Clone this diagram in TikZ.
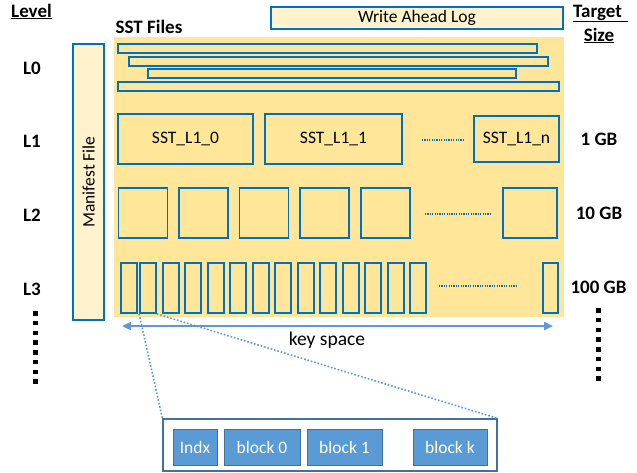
\documentclass[tikz,border=0pt]{standalone}
\usepackage{fontspec}
\setmainfont{Carlito}
\usetikzlibrary{arrows.meta}

\definecolor{gold}{HTML}{FFE699}
\definecolor{cream}{HTML}{FFF2CC}
\definecolor{fileblue}{HTML}{0070C0}
\definecolor{softblue}{HTML}{5B9BD5}
\definecolor{slateblue}{HTML}{41719C}

\tikzset{
  txt/.style={font=\fontsize{17.5}{20}\selectfont, text=black},
  lbl/.style={font=\fontsize{19}{22}\selectfont\bfseries, text=black, inner sep=0pt},
  sstbox/.style={draw=fileblue, line width=1.8pt, fill=gold, inner sep=0pt, txt},
  metabox/.style={draw=fileblue, line width=1.8pt, fill=cream, inner sep=0pt, txt},
  blk/.style={draw=slateblue, line width=0.8pt, fill=softblue, inner sep=0pt,
              minimum height=36pt, font=\fontsize{17.5}{20}\selectfont, text=white},
  gap/.style={draw=fileblue, line width=1.5pt, dash pattern=on 1.2pt off 1.2pt},
  zoomline/.style={draw=softblue, line width=1.6pt, dash pattern=on 1.6pt off 1.9pt},
}

\begin{document}
\begin{tikzpicture}[x=1pt, y=-1pt]
\useasboundingbox (0,0) rectangle (637,472);

% column headings
\node[lbl, anchor=base] (level) at (31.5,17) {\underline{Level}};
\node[lbl, anchor=base west] (target) at (573,17) {\underline{Target\,\,}};
\node[lbl, anchor=base] (size) at (599,41) {\underline{Size}};
\node[lbl, anchor=base] (sstfiles) at (149,33) {SST Files};

% level names
\node[lbl, anchor=base] (l0) at (32,74) {L0};
\node[lbl, anchor=base] (l1) at (32,147) {L1};
\node[lbl, anchor=base] (l2) at (32,221) {L2};
\node[lbl, anchor=base] (l3) at (32,295) {L3};

% target sizes
\node[lbl, anchor=base] (s1) at (599,145) {1 GB};
\node[lbl, anchor=base] (s2) at (599,219) {10 GB};
\node[lbl, anchor=base] (s3) at (598.5,293) {100 GB};

% write ahead log and manifest
\node[metabox, minimum width=292pt, minimum height=22pt] (wal) at (417,18) {Write Ahead Log};
\node[metabox, rotate=90, minimum width=276pt, minimum height=31pt] (manifest) at (88.5,182) {Manifest File};

% area holding the SST files
\node[fill=gold, inner sep=0pt, minimum width=450pt, minimum height=280pt] (area) at (339,177) {};

% L0: overlapping files
\node[sstbox, minimum width=419pt, minimum height=9pt] (l0a) at (327.5,48.5) {};
\node[sstbox, minimum width=419pt, minimum height=9pt] (l0b) at (338.5,61.5) {};
\node[sstbox, minimum width=368pt, minimum height=9pt] (l0c) at (332,73.5) {};
\node[sstbox, minimum width=441pt, minimum height=9pt] (l0d) at (338.5,86.5) {};

% L1
\node[sstbox, minimum width=135pt, minimum height=50pt] (l1a) at (185.5,139) {SST\_L1\_0};
\node[sstbox, minimum width=137pt, minimum height=50pt] (l1b) at (333.5,139) {SST\_L1\_1};
\node[sstbox, minimum width=85pt, minimum height=46pt] (l1n) at (516.5,139) {SST\_L1\_n};
\draw[gap] (422,140) -- (465,140);

% L2
\foreach \cx [count=\i] in {143,203.5,264,324.5,385.5}
  \node[sstbox, minimum width=49pt, minimum height=50pt] (l2-\i) at (\cx,213) {};
\node[sstbox, minimum width=54pt, minimum height=50pt] (l2n) at (530,213) {};
\draw[gap] (425,214) -- (490,214);

% L3
\foreach \lx [count=\i] in {121,140,163,185,208,230,253,275,298,320,343,365,388,410}
  \node[sstbox, minimum width=16pt, minimum height=50pt] (l3-\i) at (\lx+8,288) {};
\node[sstbox, minimum width=15pt, minimum height=50pt] (l3n) at (550.5,288) {};
\draw[gap] (439,286) -- (516,286);

% deeper levels
\foreach \k in {0,...,7} {
  \fill (33,311+9.75*\k) rectangle ++(4.5,4.5);
  \fill (596,308+9.75*\k) rectangle ++(4.5,4.5);
}

% key space
\coordinate (ksl) at (122,326);
\coordinate (ksr) at (553,326);
\draw[softblue, line width=2.4pt, {Triangle[length=9pt,width=8pt]}-{Triangle[length=9pt,width=8pt]}] (ksl) -- (ksr);
\node[font=\fontsize{19.5}{22}\selectfont, inner sep=0pt, anchor=base] (keyspace) at (327,345) {key space};

% one SST file opened up
\node[draw=slateblue, line width=1.2pt, fill=white, minimum width=334pt, minimum height=52pt, inner sep=0pt] (sstfile) at (330,445) {};
\node[blk, minimum width=44pt] (indx) at (195,447) {Indx};
\node[blk, minimum width=76pt] (b0) at (262,447) {block 0};
\node[blk, minimum width=75pt] (b1) at (344.5,447) {block 1};
\node[blk, minimum width=74pt] (bk) at (450,447) {block k};

\draw[zoomline] (l3-2.south west) -- (sstfile.north west);
\draw[zoomline] (l3-2.south east) -- (sstfile.north east);
\end{tikzpicture}
\end{document}
